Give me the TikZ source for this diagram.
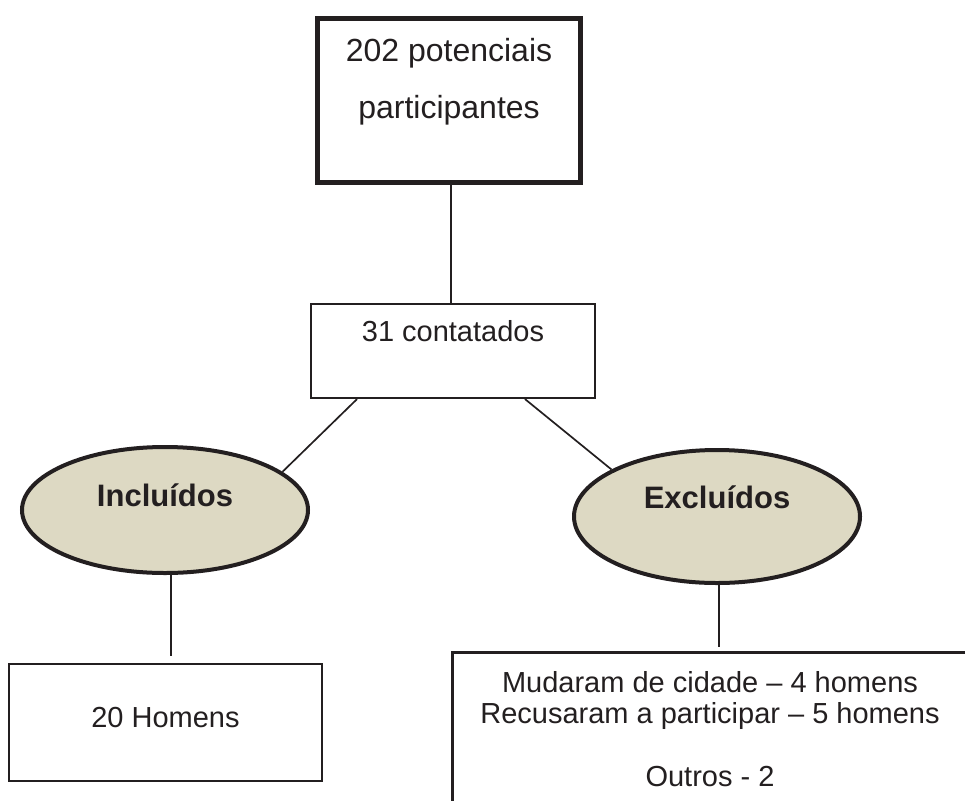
\documentclass[tikz,border=0pt]{standalone}
\usepackage{fontspec}
\setmainfont{Liberation Sans}
\usepackage{xcolor}
\usepackage{tikz}
\usetikzlibrary{shapes.geometric, positioning}
\definecolor{FlowInk}{RGB}{35, 31, 32}
\definecolor{FlowTan}{RGB}{221, 217, 195}

\begin{document}
\begin{tikzpicture}[x=1pt, y=-1pt,
    thickbox/.style={draw=FlowInk, text=FlowInk, line width=5pt, fill=white, inner sep=0pt, align=center},
    plainbox/.style={draw=FlowInk, text=FlowInk, line width=2.2pt, fill=white, inner sep=0pt, align=center},
    groupoval/.style={ellipse, draw=FlowInk, text=FlowInk, line width=4pt, fill=FlowTan, inner sep=0pt,
          font=\fontsize{31}{33}\selectfont\bfseries},
    link/.style={draw=FlowInk, line width=1.7pt}]
    \useasboundingbox (0,0) rectangle (965,800);
    \clip (0,0) rectangle (965,800);

    % caixas e elipses
    \node[thickbox, minimum width=263pt, text height=99.7pt, text depth=63.8pt,
          font=\fontsize{32}{57}\selectfont] (pool) at (449,100.75)
          {202 potenciais\\participantes};
    \node[plainbox, minimum width=284pt, text height=37.7pt, text depth=56.3pt,
          font=\fontsize{29}{31}\selectfont] (contact) at (453,351) {31 contatados};
    \node[groupoval, minimum width=286pt, minimum height=126pt, text height=24pt,
          text depth=32pt] (incl) at (165,510) {Incluídos};
    \node[groupoval, minimum width=286pt, minimum height=133pt, text height=22pt,
          text depth=39pt] (excl) at (717,516.5) {Excluídos};
    \node[plainbox, minimum width=313pt, text height=63pt, text depth=54pt,
          font=\fontsize{29}{31}\selectfont] (men) at (165.5,722.5) {20 Homens};
    \node[plainbox, minimum width=515pt, text height=134.2pt, text depth=28.3pt,
          font=\fontsize{29}{31.5}\selectfont] (reasons) at (710,733.75)
          {Mudaram de cidade – 4 homens\\Recusaram a participar – 5 homens\\[31.5pt]Outros - 2};

    % ligações
    \draw[link] ([xshift=2pt]pool.south) -- ([xshift=2pt]pool.south |- contact.north);
    \draw[link] ([xshift=-96pt]contact.south) -- (incl.18);
    \draw[link] ([xshift=72pt]contact.south) -- (excl.156);
    \draw[link] ([xshift=6pt]incl.south) -- ([xshift=6pt,yshift=7pt]incl.south |- men.north);
    \draw[link] ([xshift=2pt]excl.south) -- ([xshift=2pt,yshift=4pt]excl.south |- reasons.north);
  \end{tikzpicture}
\end{document}
